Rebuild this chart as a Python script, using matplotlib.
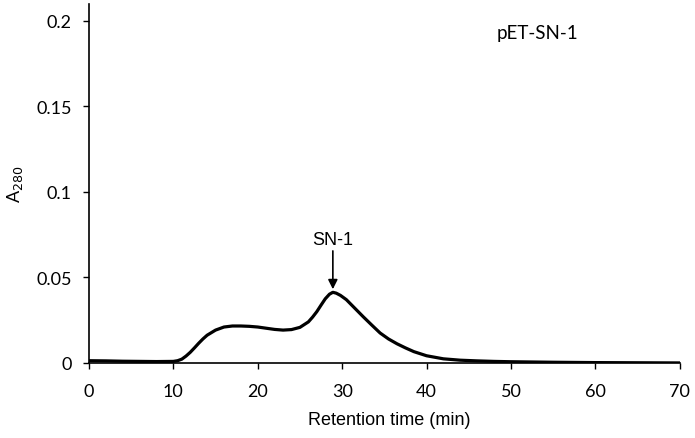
import numpy as np
import matplotlib.pyplot as plt

# retention time (min) and A280
time = [0, 2, 4, 6, 8, 10, 10.5, 11, 11.5, 12, 12.5, 13, 13.5, 14, 15, 16, 17, 18, 19, 20,
        21, 22, 23, 24, 25, 26, 26.5, 27, 27.5, 28, 28.5, 28.9, 29.3, 29.8, 30.5, 31.5,
        32.5, 33.5, 34.5, 35.5, 36.5, 37.5, 38.5, 40, 42, 44, 46, 48, 50, 55, 60, 65, 70]
a280 = [0.0013, 0.0012, 0.0010, 0.0009, 0.0008, 0.0009, 0.0013, 0.0022, 0.0040, 0.0062,
        0.0088, 0.0115, 0.0140, 0.0162, 0.0192, 0.0210, 0.0216, 0.0216, 0.0214, 0.0210,
        0.0203, 0.0196, 0.0192, 0.0195, 0.0208, 0.0240, 0.0268, 0.0300, 0.0338, 0.0375,
        0.0402, 0.0413, 0.0408, 0.0395, 0.0370, 0.0320, 0.0270, 0.0222, 0.0175, 0.0140,
        0.0112, 0.0088, 0.0066, 0.0042, 0.0024, 0.0016, 0.0012, 0.0009, 0.0007, 0.0004,
        0.0002, 0.0001, 0.0000]

calibri = ['Lato', 'DejaVu Sans']
arial = ['Liberation Sans', 'DejaVu Sans']

fig, ax = plt.subplots(figsize=(6.95, 4.39), dpi=100)
fig.subplots_adjust(left=0.128, right=0.978, bottom=0.171, top=0.989)

ax.plot(time, a280, color='black', lw=2.3)

ax.set_xlim(0, 70)
ax.set_ylim(0, 0.21)
ax.set_xticks([0, 10, 20, 30, 40, 50, 60, 70])
ax.set_yticks([0, 0.05, 0.1, 0.15, 0.2])
ax.set_yticklabels(['0', '0.05', '0.1', '0.15', '0.2'])
for lab in ax.get_xticklabels() + ax.get_yticklabels():
    lab.set_family(calibri)
    lab.set_fontsize(13)
ax.tick_params(direction='out', length=4.3, width=1, color='black')
ax.tick_params(axis='x', pad=10)
ax.tick_params(axis='y', pad=8)
ax.spines['top'].set_visible(False)
ax.spines['right'].set_visible(False)
ax.spines['left'].set_linewidth(1.2)
ax.spines['bottom'].set_linewidth(1.2)

ax.set_xlabel('Retention time (min)', family=arial, fontsize=13)
ax.xaxis.set_label_coords(0.509, -0.135)
ax.set_ylabel('A$_{280}$', family=calibri, fontsize=13, labelpad=8)

ax.text(53.2, 0.19, 'pET-SN-1', family=calibri, fontsize=13.5, ha='center')
ax.text(28.9, 0.0694, 'SN-1', family=arial, fontsize=13, ha='center', va='baseline')
ax.annotate('', xy=(28.9, 0.0431), xytext=(28.9, 0.0655),
            arrowprops=dict(arrowstyle='-|>', color='black', lw=1.2, mutation_scale=14,
                            shrinkA=0, shrinkB=0))

fig.savefig('out.png', dpi=100)
